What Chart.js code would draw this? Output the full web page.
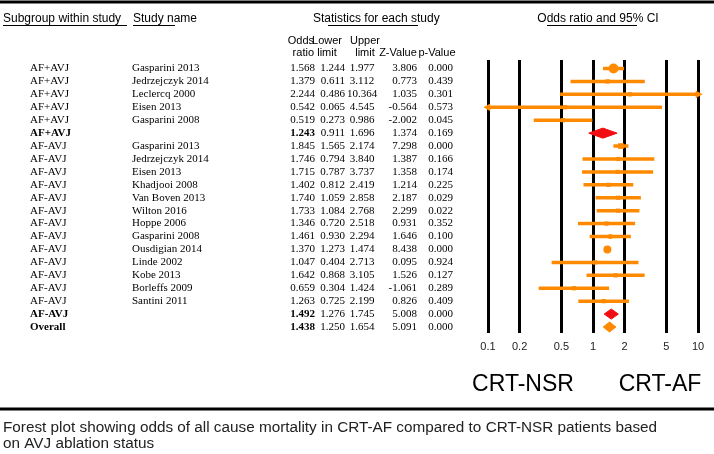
<!DOCTYPE html>
<html>
<head>
<meta charset="utf-8">
<script src="https://cdn.jsdelivr.net/npm/chart.js@4.4.1/dist/chart.umd.min.js"></script>
<style>
  html, body { margin: 0; padding: 0; background: #fff; }
  canvas { display: block; }
</style>
</head>
<body>
<canvas id="forest" width="714" height="454"></canvas>
<script>
const subgroups = [
  "AF+AVJ", "AF+AVJ", "AF+AVJ", "AF+AVJ", "AF+AVJ", "AF+AVJ",
  "AF-AVJ", "AF-AVJ", "AF-AVJ", "AF-AVJ", "AF-AVJ", "AF-AVJ", "AF-AVJ",
  "AF-AVJ", "AF-AVJ", "AF-AVJ", "AF-AVJ", "AF-AVJ", "AF-AVJ", "AF-AVJ",
  "Overall"
];
const studies = [
  "Gasparini 2013", "Jedrzejczyk 2014", "Leclercq 2000", "Eisen 2013", "Gasparini 2008", "",
  "Gasparini 2013", "Jedrzejczyk 2014", "Eisen 2013", "Khadjooi 2008", "Van Boven 2013",
  "Wilton 2016", "Hoppe 2006", "Gasparini 2008", "Ousdigian 2014", "Linde 2002",
  "Kobe 2013", "Borleffs 2009", "Santini 2011", "", ""
];
const oddsRatio = [1.568, 1.379, 2.244, 0.542, 0.519, 1.243, 1.845, 1.746, 1.715, 1.402, 1.740,
  1.733, 1.346, 1.461, 1.370, 1.047, 1.642, 0.659, 1.263, 1.492, 1.438];
const lowerLimit = [1.244, 0.611, 0.486, 0.065, 0.273, 0.911, 1.565, 0.794, 0.787, 0.812, 1.059,
  1.084, 0.720, 0.930, 1.273, 0.404, 0.868, 0.304, 0.725, 1.276, 1.250];
const upperLimit = [1.977, 3.112, 10.364, 4.545, 0.986, 1.696, 2.174, 3.840, 3.737, 2.419, 2.858,
  2.768, 2.518, 2.294, 1.474, 2.713, 3.105, 1.424, 2.199, 1.745, 1.654];
const zValue = [3.806, 0.773, 1.035, -0.564, -2.002, 1.374, 7.298, 1.387, 1.358, 1.214, 2.187,
  2.299, 0.931, 1.646, 8.438, 0.095, 1.526, -1.061, 0.826, 5.008, 5.091];
const pValue = [0.000, 0.439, 0.301, 0.573, 0.045, 0.169, 0.000, 0.166, 0.174, 0.225, 0.029,
  0.022, 0.352, 0.100, 0.000, 0.924, 0.127, 0.289, 0.409, 0.000, 0.000];
const summaryRows = [5, 19, 20];
const tickValues = [0.1, 0.2, 0.5, 1, 2, 5, 10];
const xMin = 0.1, xMax = 10;

// marker look per study row (weight-ish)
const markerStyle = { 0: ["circle", 5], 6: ["rect", 4], 13: ["circle", 2.5], 14: ["circle", 4] };
const ORANGE = "#ff8a00";
const RED = "#f20d12";
const diamondColors = { 5: RED, 19: RED, 20: ORANGE };

const studyRows = oddsRatio.map((_, i) => i).filter(i => !summaryRows.includes(i));

const ciData = [];
studyRows.forEach(i => {
  ciData.push({ x: Math.max(lowerLimit[i], xMin), y: i });
  ciData.push({ x: Math.min(upperLimit[i], xMax), y: i });
  ciData.push({ x: 1, y: null });
});

const arrowData = [];
studyRows.forEach(i => {
  if (lowerLimit[i] < xMin) arrowData.push({ x: xMin, y: i, dir: -1 });
  if (upperLimit[i] > xMax) arrowData.push({ x: xMax, y: i, dir: 1 });
});

const markerData = studyRows.map(i => ({ x: oddsRatio[i], y: i, row: i }));

const halfH = 0.39;
const diamondSets = summaryRows.map(i => ({
  data: [
    { x: lowerLimit[i], y: i }, { x: oddsRatio[i], y: i - halfH },
    { x: upperLimit[i], y: i }, { x: oddsRatio[i], y: i + halfH },
    { x: lowerLimit[i], y: i }
  ],
  showLine: true,
  borderColor: diamondColors[i],
  backgroundColor: diamondColors[i],
  borderWidth: 1,
  fill: "shape",
  pointRadius: 0,
  tension: 0
}));

const SANS = '"Liberation Sans", Arial, sans-serif';
const SERIF = '"Liberation Serif", "Times New Roman", serif';

const tablePlugin = {
  id: "forestTable",
  afterDraw(chart) {
    const ctx = chart.ctx;
    const ys = chart.scales.y;
    ctx.save();
    ctx.fillStyle = "#000";
    ctx.textBaseline = "middle";

    // rules
    ctx.fillRect(0, 0.5, 714, 3);
    ctx.fillRect(0, 407.5, 714, 3);

    // headers
    ctx.font = "12px " + SANS;
    ctx.textAlign = "left";
    ctx.fillText("Subgroup within study", 3, 19);
    ctx.fillText("Study name", 133, 19);
    ctx.fillText("Statistics for each study", 313, 19);
    ctx.textAlign = "center";
    ctx.fillText("Odds ratio and 95% CI", 598, 19);
    ctx.fillRect(3, 25, 124, 1);
    ctx.fillRect(133, 25, 42, 1);
    ctx.fillRect(328, 25, 90, 1);
    ctx.fillRect(547, 25, 90, 1);

    ctx.font = "11px " + SANS;
    ctx.textAlign = "right";
    ctx.fillText("Odds", 314, 41);
    ctx.fillText("ratio", 314, 53);
    ctx.textAlign = "center";
    ctx.fillText("Lower", 327, 41);
    ctx.fillText("limit", 327, 53);
    ctx.fillText("Upper", 365, 41);
    ctx.fillText("limit", 365, 53);
    ctx.fillText("Z-Value", 398, 53);
    ctx.fillText("p-Value", 437, 53);

    // rows
    subgroups.forEach((sg, i) => {
      const y = ys.getPixelForValue(i);
      const bold = summaryRows.includes(i);
      ctx.font = (bold ? "bold " : "") + "11px " + SERIF;
      ctx.textAlign = "left";
      ctx.fillText(sg, 30, y);
      ctx.font = "11px " + SERIF;
      ctx.fillText(studies[i], 132, y);
      ctx.textAlign = "right";
      ctx.font = (bold ? "bold " : "") + "11px " + SERIF;
      ctx.fillText(oddsRatio[i].toFixed(3), 315, y);
      ctx.font = "11px " + SERIF;
      ctx.fillText(lowerLimit[i].toFixed(3), 345, y);
      ctx.textAlign = "center";
      ctx.fillText(upperLimit[i].toFixed(3), 362, y);
      ctx.textAlign = "right";
      ctx.fillText(zValue[i].toFixed(3), 417, y);
      ctx.fillText(pValue[i].toFixed(3), 453, y);
    });

    // favours labels
    ctx.font = "23px " + SANS;
    ctx.textAlign = "center";
    ctx.fillText("CRT-NSR", 523, 385);
    ctx.fillText("CRT-AF", 660, 385);

    // caption
    ctx.font = "15.3px " + SANS;
    ctx.textAlign = "left";
    ctx.fillStyle = "#222";
    ctx.fillText("Forest plot showing odds of all cause mortality in CRT-AF compared to CRT-NSR patients based", 3, 428);
    ctx.fillText("on AVJ ablation status", 3, 444);
    ctx.restore();
  }
};

new Chart(document.getElementById("forest"), {
  type: "scatter",
  data: {
    datasets: [
      {
        data: ciData,
        showLine: true,
        spanGaps: false,
        borderColor: ORANGE,
        borderWidth: 3.5,
        pointRadius: 0,
        tension: 0
      },
      {
        data: markerData,
        backgroundColor: ORANGE,
        borderColor: ORANGE,
        borderWidth: 0,
        pointStyle: c => (markerStyle[c.raw.row] || ["rect", 3])[0],
        pointRadius: c => (markerStyle[c.raw.row] || ["rect", 3])[1],
        clip: false
      },
      {
        data: arrowData,
        backgroundColor: ORANGE,
        borderColor: ORANGE,
        borderWidth: 0,
        pointStyle: "triangle",
        pointRadius: 4.5,
        rotation: c => (c.raw.dir > 0 ? 90 : -90),
        clip: false
      },
      ...diamondSets
    ]
  },
  options: {
    responsive: false,
    animation: false,
    events: [],
    layout: { padding: { left: 488, right: 16, top: 60, bottom: 91 } },
    plugins: {
      legend: { display: false },
      tooltip: { enabled: false }
    },
    scales: {
      x: {
        type: "logarithmic",
        min: xMin,
        max: xMax,
        afterBuildTicks: axis => { axis.ticks = tickValues.map(v => ({ value: v })); },
        afterFit: axis => { axis.height = 30; },
        ticks: {
          autoSkip: false,
          maxRotation: 0,
          padding: 7,
          color: "#222",
          font: { family: SANS, size: 11 },
          callback: v => String(v)
        },
        grid: { color: "#000", lineWidth: 3, drawTicks: false },
        border: { display: false }
      },
      y: {
        type: "linear",
        reverse: true,
        min: -0.658,
        max: 20.464,
        display: false
      }
    }
  },
  plugins: [tablePlugin]
});
</script>
</body>
</html>
